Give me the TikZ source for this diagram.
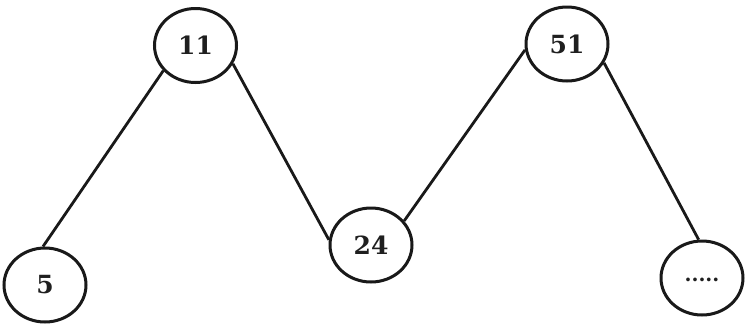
\documentclass[tikz,border=0pt]{standalone}
\usepackage{fontspec}
\setmainfont{DejaVu Serif}
\usetikzlibrary{shapes.geometric}
\begin{document}
\begin{tikzpicture}[x=1pt,y=-1pt,
  vnode/.style={ellipse,draw=black!90,line width=3pt,minimum width=82pt,minimum height=74pt,inner sep=0pt,
    font=\fontsize{25}{28}\selectfont\bfseries,text=black!88},
  edge/.style={draw=black!90,line width=2.8pt}]
\useasboundingbox (0,0) rectangle (747,327);
\fill[white] (0,0) rectangle (747,327);
\node[vnode] (n5)  at (45,285)    {5};
\node[vnode] (n11) at (195.5,45.5) {11};
\node[vnode] (n24) at (371,245)   {24};
\node[vnode] (n51) at (567,44)    {51};
\node[vnode,font=\fontsize{20}{22}\selectfont\bfseries] (nd) at (702,278) {\raisebox{-7pt}{.....}};
\draw[edge] (n5.93)   -- (n11.218);
\draw[edge] (n11.334) -- (n24.173);
\draw[edge] (n24.36)  -- (n51.188);
\draw[edge] (n51.333) -- (nd.95);
\end{tikzpicture}
\end{document}
